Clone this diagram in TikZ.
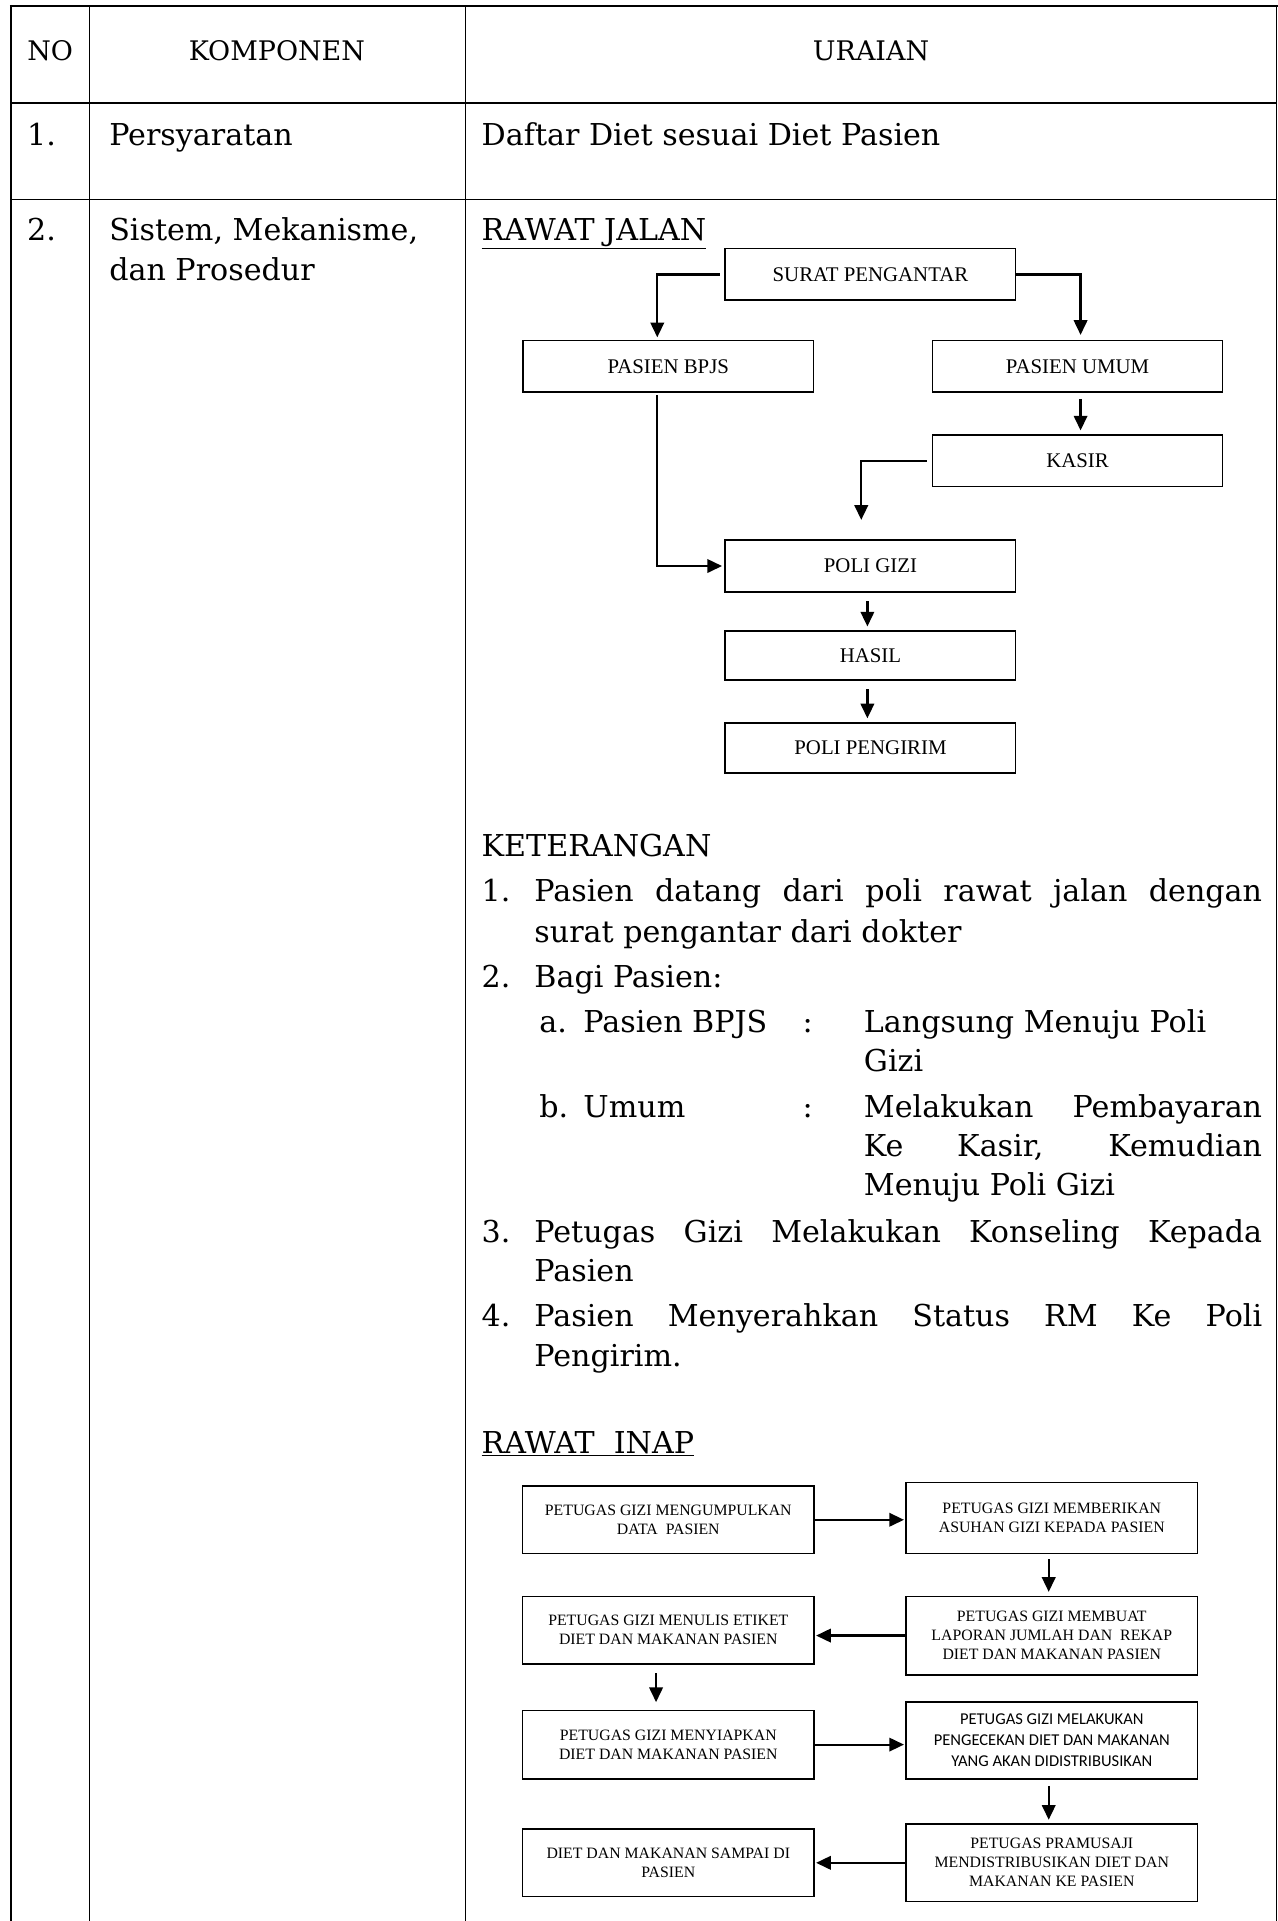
\documentclass[tikz,border=0pt]{standalone}
\usepackage{fontspec}
\setmainfont{DejaVu Serif}
\newfontfamily\flowfont{Liberation Serif}
\newfontfamily\calfont{Carlito}
\usetikzlibrary{arrows.meta}
\begin{document}
\begin{tikzpicture}[x=1pt,y=-1pt,
  tline/.style={line width=1.2pt},
  body/.style={font=\fontsize{24.6}{30}\selectfont, inner sep=0, anchor=base west},
  hdr/.style={font=\fontsize{22}{26}\selectfont, inner sep=0, anchor=base},
  fbox/.style={draw, line width=1.3pt, minimum width=237pt, inner sep=0, align=center, font=\flowfont\fontsize{17}{20}\selectfont},
  gbox/.style={draw, line width=1.3pt, minimum width=238pt, inner sep=0, align=center, font=\flowfont\fontsize{12.9}{15.5}\selectfont},
  cbox/.style={gbox, font=\calfont\fontsize{13.5}{17}\selectfont},
  arr/.style={line width=1.8pt, -{Triangle[length=12pt,width=11pt]}}
]
\useasboundingbox (0,0) rectangle (1043,1568);
\fill[white] (0,0) rectangle (1043,1568);

% table
\draw[line width=2.2pt] (8,5) -- (1043,5);
\draw[tline] (9,84) -- (1042,84);
\draw[tline] (9,163) -- (1042,163);
\draw[tline] (9,4) -- (9,1568);
\draw[tline] (73,5) -- (73,1568);
\draw[tline] (380,5) -- (380,1568);
\draw[tline] (1042,4) -- (1042,1568);

\node[hdr] (hno) at (41,49) {NO};
\node[hdr] (hkomp) at (226,49) {KOMPONEN};
\node[hdr] (hur) at (711,49) {URAIAN};

\node[body] (n1) at (22,119) {1.};
\node[body] (k1) at (89,119) {Persyaratan};
\node[body] (u1) at (393,119) {Daftar Diet sesuai Diet Pasien};

\node[body] (n2) at (22,196) {2.};
\node[body] (k2a) at (89,196) {Sistem, Mekanisme,};
\node[body] (k2b) at (89,229) {dan Prosedur};
\node[body] (rj) at (393,196) {\underline{RAWAT JALAN}};

% flowchart rawat jalan
\node[fbox, minimum height=42pt] (surat) at (710.5,224) {SURAT PENGANTAR};
\node[fbox, minimum height=42pt] (bpjs) at (545.5,299) {PASIEN BPJS};
\node[fbox, minimum height=42pt] (umum) at (879.5,299) {PASIEN UMUM};
\node[fbox, minimum height=42pt] (kasir) at (879.5,376) {KASIR};
\node[fbox, minimum height=42pt] (gizi) at (710.5,462) {POLI GIZI};
\node[fbox, minimum height=40pt] (hasil) at (710.5,535) {HASIL};
\node[fbox, minimum height=41pt] (kirim) at (710.5,610.5) {POLI PENGIRIM};

\draw[arr] ([xshift=-4pt]surat.west) -| ([xshift=-9pt,yshift=2pt]bpjs.north);
\draw[arr] (surat.east) -| ([xshift=2.5pt,yshift=4pt]umum.north);
\draw[arr] ([xshift=2.5pt,yshift=-5pt]umum.south) -- ([xshift=2.5pt,yshift=3pt]kasir.north);
\draw[arr] ([xshift=-4pt]kasir.west) -| ([xshift=-7.5pt,yshift=16pt]gizi.north);
\draw[arr] ([xshift=-9pt,yshift=-2pt]bpjs.south) |- ([xshift=-2pt]gizi.west);
\draw[arr] ([xshift=-2.5pt,yshift=-7pt]gizi.south) -- ([xshift=-2.5pt,yshift=3pt]hasil.north);
\draw[arr] ([xshift=-2.5pt,yshift=-7pt]hasil.south) -- ([xshift=-2.5pt,yshift=3pt]kirim.north);

% keterangan
\node[body] (ket) at (393,699) {KETERANGAN};
\node[body] (i1n) at (393,736) {1.};
\node[body] (i1a) at (436,736) {\makebox[594pt][s]{Pasien datang dari poli rawat jalan dengan}};
\node[body] (i1b) at (436,769) {surat pengantar dari dokter};
\node[body] (i2n) at (393,806) {2.};
\node[body] (i2a) at (436,806) {Bagi Pasien:};
\node[body] (ian) at (440,843) {a.};
\node[body] (iat) at (476,843) {Pasien BPJS};
\node[body] (iac) at (655,843) {:};
\node[body] (iad) at (705,843) {Langsung Menuju Poli};
\node[body] (iae) at (705,875) {Gizi};
\node[body] (ibn) at (440,912) {b.};
\node[body] (ibt) at (476,912) {Umum};
\node[body] (ibc) at (655,912) {:};
\node[body] (ibd) at (705,912) {\makebox[325pt][s]{Melakukan Pembayaran}};
\node[body] (ibe) at (705,944) {\makebox[325pt][s]{Ke Kasir, Kemudian}};
\node[body] (ibf) at (705,976) {Menuju Poli Gizi};
\node[body] (i3n) at (393,1014) {3.};
\node[body] (i3a) at (436,1014) {\makebox[594pt][s]{Petugas Gizi Melakukan Konseling Kepada}};
\node[body] (i3b) at (436,1046) {Pasien};
\node[body] (i4n) at (393,1083) {4.};
\node[body] (i4a) at (436,1083) {\makebox[594pt][s]{Pasien Menyerahkan Status RM Ke Poli}};
\node[body] (i4b) at (436,1115) {Pengirim.};
\node[body] (ri) at (393,1186) {\underline{RAWAT\ \ INAP}};

% flowchart rawat inap
\node[gbox, minimum height=55pt] (A) at (545.5,1240.5) {PETUGAS GIZI MENGUMPULKAN\\DATA\ \ PASIEN};
\node[gbox, minimum height=58pt] (B) at (858.5,1239) {PETUGAS GIZI MEMBERIKAN\\ASUHAN GIZI KEPADA PASIEN};
\node[gbox, minimum height=64pt] (C) at (858.5,1335) {PETUGAS GIZI MEMBUAT\\LAPORAN JUMLAH DAN\ \ REKAP\\DIET DAN MAKANAN PASIEN};
\node[gbox, minimum height=55pt] (D) at (545.5,1330.5) {PETUGAS GIZI MENULIS ETIKET\\DIET DAN MAKANAN PASIEN};
\node[gbox, minimum height=56pt] (E) at (545.5,1424) {PETUGAS GIZI MENYIAPKAN\\DIET DAN MAKANAN PASIEN};
\node[cbox, minimum height=63pt] (F) at (858.5,1420.5) {PETUGAS GIZI MELAKUKAN\\PENGECEKAN DIET DAN MAKANAN\\YANG AKAN DIDISTRIBUSIKAN};
\node[gbox, minimum height=63pt] (G) at (858.5,1520.5) {PETUGAS PRAMUSAJI\\MENDISTRIBUSIKAN DIET DAN\\MAKANAN KE PASIEN};
\node[gbox, minimum height=55pt] (H) at (545.5,1520.5) {DIET DAN MAKANAN SAMPAI DI\\PASIEN};

\draw[arr] (A.east) -- ([xshift=-1pt]A.east -| B.west);
\draw[arr] ([xshift=-2.5pt,yshift=-4pt]B.south) -- ([xshift=-2.5pt,yshift=3pt]C.north);
\draw[arr] (C.west) -- ([xshift=1pt]C.west -| D.east);
\draw[arr] ([xshift=-10pt,yshift=-7pt]D.south) -- ([xshift=-10pt,yshift=6pt]E.north);
\draw[arr] (E.east) -- ([xshift=-1pt]E.east -| F.west);
\draw[arr] ([xshift=-2.5pt,yshift=-5pt]F.south) -- ([xshift=-2.5pt,yshift=3pt]G.north);
\draw[arr] (G.west) -- ([xshift=1pt]G.west -| H.east);
\end{tikzpicture}
\end{document}
